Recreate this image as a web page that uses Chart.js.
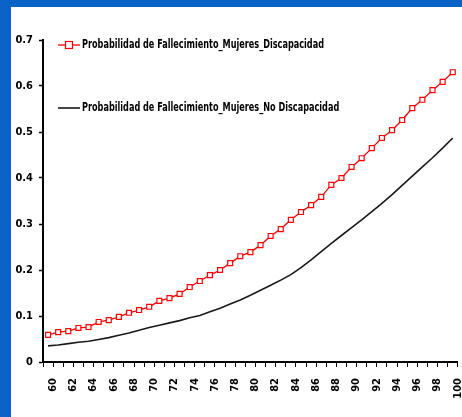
<!DOCTYPE html>
<html>
<head>
<meta charset="utf-8">
<script src="https://cdn.jsdelivr.net/npm/chart.js@4.4.0/dist/chart.umd.min.js"></script>
<style>
  html, body { margin: 0; padding: 0; background: #fff; }
  #frame {
    width: 462px; height: 417px; box-sizing: border-box;
    border-left: 11px solid #0a64c8; border-top: 7px solid #0a64c8;
    overflow: hidden; background: #fff;
  }
  canvas { display: block; }
</style>
</head>
<body>
<div id="frame"><canvas id="chart" width="452" height="410"></canvas></div>
<script>
// edades (eje x)
const edades = ['60','61','62','63','64','65','66','67','68','69','70','71','72','73','74','75','76','77','78','79','80',
                '81','82','83','84','85','86','87','88','89','90','91','92','93','94','95','96','97','98','99','100'];

// probabilidad de fallecimiento, mujeres con discapacidad
const conDiscapacidad = [0.059, 0.065, 0.067, 0.074, 0.076, 0.087, 0.091, 0.098, 0.107, 0.113, 0.120,
                         0.133, 0.139, 0.148, 0.163, 0.176, 0.189, 0.200, 0.215, 0.230, 0.239,
                         0.254, 0.274, 0.289, 0.309, 0.326, 0.341, 0.359, 0.385, 0.400, 0.424,
                         0.443, 0.465, 0.487, 0.504, 0.526, 0.552, 0.570, 0.591, 0.609, 0.630];

// probabilidad de fallecimiento, mujeres sin discapacidad
const sinDiscapacidad = [0.035, 0.037, 0.040, 0.043, 0.045, 0.049, 0.053, 0.058, 0.063, 0.069, 0.075,
                         0.080, 0.085, 0.090, 0.096, 0.101, 0.109, 0.117, 0.126, 0.135, 0.145,
                         0.156, 0.167, 0.178, 0.190, 0.205, 0.222, 0.240, 0.258, 0.275, 0.292,
                         0.309, 0.327, 0.345, 0.364, 0.384, 0.404, 0.424, 0.444, 0.465, 0.487];

const yTicks = [0, 0.1, 0.2, 0.3, 0.4, 0.5, 0.6, 0.7];

const FUENTE = "'Liberation Sans Narrow', 'DejaVu Sans Condensed', 'Arial Narrow', sans-serif";

// leyenda dibujada dentro del area del grafico, como en el original
const leyendaInterna = {
  id: 'leyendaInterna',
  afterDraw(chart) {
    const ctx = chart.ctx;
    const filas = [38, 101];
    ctx.save();
    ctx.font = 'bold 12px ' + FUENTE;
    const escala = 242 / ctx.measureText(chart.data.datasets[0].label).width;
    chart.data.datasets.forEach((ds, i) => {
      const y = filas[i];
      ctx.strokeStyle = ds.borderColor;
      ctx.lineWidth = ds.borderWidth;
      ctx.beginPath();
      ctx.moveTo(47, y);
      ctx.lineTo(69, y);
      ctx.stroke();
      if (ds.pointRadius > 0) {
        ctx.fillStyle = ds.pointBackgroundColor;
        ctx.lineWidth = ds.pointBorderWidth;
        ctx.fillRect(54.5, y - 3.5, 7, 7);
        ctx.strokeRect(54.5, y - 3.5, 7, 7);
      }
      ctx.save();
      ctx.translate(71, y);
      ctx.scale(escala, 1);
      ctx.fillStyle = '#000';
      ctx.textBaseline = 'middle';
      ctx.fillText(ds.label, 0, 0);
      ctx.restore();
    });
    ctx.restore();
  }
};

const ctx = document.getElementById('chart').getContext('2d');
const grafico = new Chart(ctx, {
  type: 'line',
  data: {
    labels: edades,
    datasets: [
      {
        label: 'Probabilidad de Fallecimiento_Mujeres_Discapacidad',
        data: conDiscapacidad,
        borderColor: '#ff0000',
        borderWidth: 1.3,
        pointStyle: 'rect',
        pointRadius: 3.5,
        pointBorderWidth: 1.2,
        pointBorderColor: '#ff0000',
        pointBackgroundColor: '#ffffff',
        tension: 0
      },
      {
        label: 'Probabilidad de Fallecimiento_Mujeres_No Discapacidad',
        data: sinDiscapacidad,
        borderColor: '#1a1a1a',
        borderWidth: 1.6,
        pointRadius: 0,
        tension: 0
      }
    ]
  },
  options: {
    responsive: false,
    animation: false,
    layout: { padding: { top: 33, left: 0, right: 0, bottom: 0 } },
    plugins: { legend: { display: false }, tooltip: { enabled: false } },
    scales: {
      x: {
        offset: true,
        afterFit: (s) => { s.height = 55; s.paddingLeft = 0; s.paddingRight = 0; },
        grid: { offset: true, drawOnChartArea: false, drawTicks: true, tickLength: 5, tickColor: '#000', tickWidth: 1 },
        border: { color: '#000', width: 2 },
        ticks: {
          autoSkip: false,
          minRotation: 90,
          maxRotation: 90,
          labelOffset: 5,
          padding: 11,
          color: '#000',
          font: { family: FUENTE, size: 11, weight: 'bold' },
          callback: function (v, i) { return i % 2 === 0 ? this.getLabelForValue(v) : ''; }
        }
      },
      y: {
        min: 0,
        max: 0.7,
        afterFit: (s) => { s.width = 32; },
        afterBuildTicks: (s) => { s.ticks = yTicks.map(v => ({ value: v })); },
        grid: { drawOnChartArea: false, drawTicks: true, tickLength: 4, tickColor: '#000', tickWidth: 1.5 },
        border: { color: '#000', width: 2 },
        ticks: {
          padding: 6,
          color: '#000',
          font: { family: FUENTE, size: 11, weight: 'bold' },
          callback: (v) => v === 0 ? '0' : v.toFixed(1)
        }
      }
    }
  },
  plugins: [leyendaInterna]
});
</script>
</body>
</html>
